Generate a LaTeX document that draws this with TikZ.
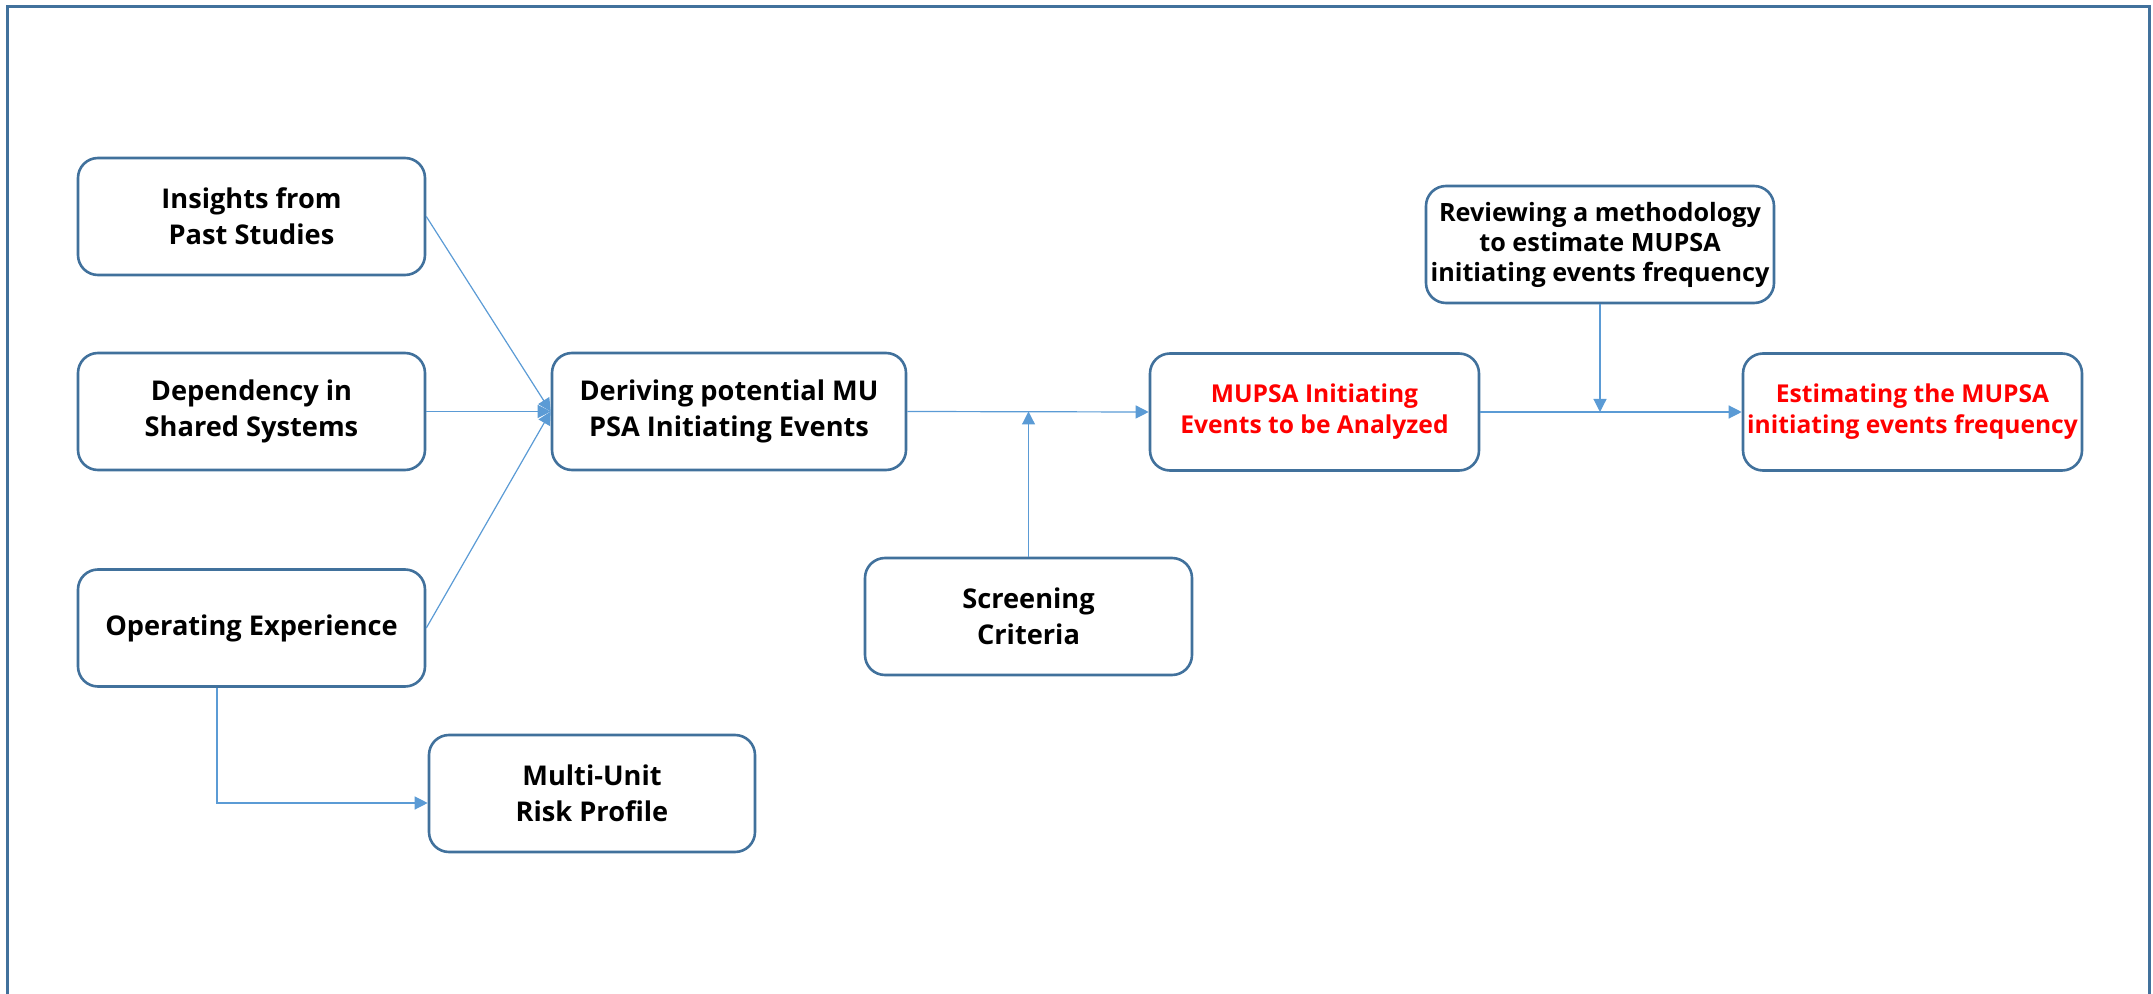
\documentclass[tikz,border=0pt]{standalone}
\usepackage{fontspec}
\setmainfont{Open Sans}
\usetikzlibrary{arrows.meta}
\definecolor{boxblue}{HTML}{41719C}
\definecolor{arrblue}{HTML}{5B9BD5}
\tikzset{
  stepbox/.style={draw=boxblue, line width=1.3pt, rounded corners=10pt, fill=white,
    align=center, inner sep=0pt, font=\fontsize{13.6}{18}\selectfont\bfseries,
    minimum height=58.5pt},
  smalltext/.style={font=\fontsize{12.6}{15}\selectfont\bfseries},
  redtext/.style={text=red, font=\fontsize{12.3}{15.5}\selectfont\bfseries},
  arr/.style={draw=arrblue, line width=0.6pt, -{Triangle[length=6.5pt,width=6.5pt]}},
  frame/.style={draw=boxblue, line width=1.5pt}
}
\begin{document}
\begin{tikzpicture}[x=0.5pt,y=-0.5pt]
\useasboundingbox (0,0) rectangle (2153,994);
\draw[frame] (7,1000) -- (7,7) -- (2149,7) -- (2149,1000);

\node[stepbox, minimum width=173.5pt] (ins) at (251.5,216.5) {Insights from\\Past Studies};
\node[stepbox, minimum width=173.5pt] (dep) at (251.5,411.5) {Dependency in\\Shared Systems};
\node[stepbox, minimum width=173.5pt] (ope) at (251.5,628) {Operating Experience};
\node[stepbox, minimum width=177pt] (der) at (729,411.5) {Deriving potential MU\\PSA Initiating Events};
\node[stepbox, minimum width=163pt] (mul) at (592,793.5) {Multi-Unit\\Risk Profile};
\node[stepbox, minimum width=163.5pt] (scr) at (1028.5,616.5) {Screening\\Criteria};
\node[stepbox, redtext, minimum width=164.5pt] (mie) at (1314.5,412) {MUPSA Initiating\\Events to be Analyzed};
\node[stepbox, smalltext, minimum width=174pt] (rev) at (1600,244.5) {Reviewing a methodology\\to estimate MUPSA\\initiating events frequency};
\node[stepbox, redtext, minimum width=169.5pt] (est) at (1912.5,412) {Estimating the MUPSA\\initiating events frequency};

\draw[arr] (ins.east) -- (der.west);
\draw[arr] (dep.east) -- (der.west);
\draw[arr] (ope.east) -- (der.west);
\draw[arr] (der.east) -- (mie.west);
\draw[arr] (scr.north) -- (scr.north |- der.east);
\draw[arr] (mie.east) -- (est.west);
\draw[arr] (rev.south) -- (rev.south |- mie.east);
\coordinate (opex) at ([xshift=-17.25pt]ope.south);
\coordinate (mulin) at ([yshift=-4.75pt]mul.west);
\draw[arr] (opex) |- (mulin);
\end{tikzpicture}
\end{document}
